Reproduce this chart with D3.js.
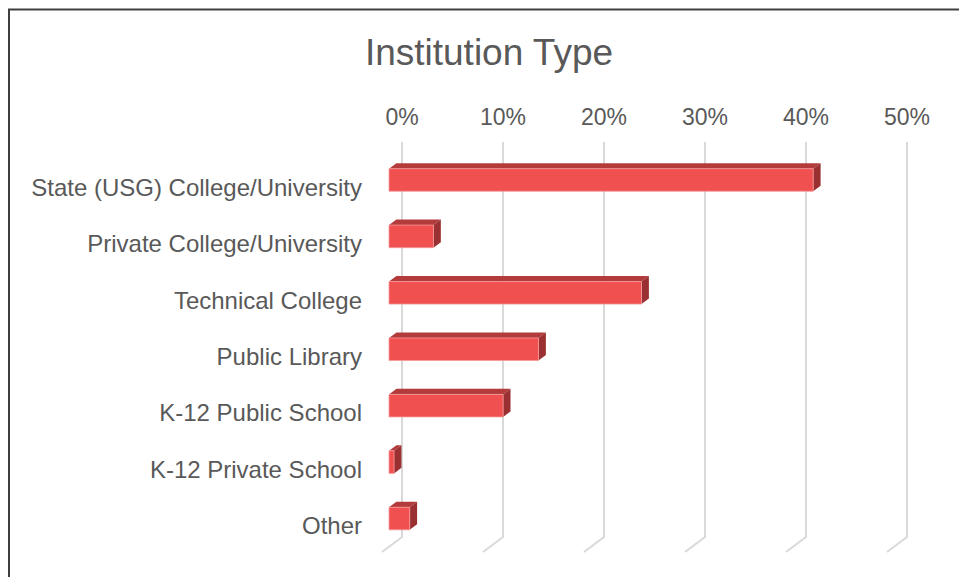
<!DOCTYPE html>
<html>
<head>
<meta charset="utf-8">
<script src="https://cdn.jsdelivr.net/npm/d3@7"></script>
<style>
  html, body { margin: 0; padding: 0; background: #ffffff; }
  svg { display: block; font-family: "Liberation Sans", Arial, sans-serif; }
</style>
</head>
<body>
<svg id="chart" width="959" height="577"></svg>
<script>
// Share of respondents by institution type (percent)
const categories = [
  "State (USG) College/University",
  "Private College/University",
  "Technical College",
  "Public Library",
  "K-12 Public School",
  "K-12 Private School",
  "Other"
];
const values = [42.0, 4.4, 25.0, 14.8, 11.3, 0.5, 2.05];
const tickValues = [0, 10, 20, 30, 40, 50];
const title = "Institution Type";

const W = 959, H = 577;
const svg = d3.select("#chart");

// Outer frame (left and top edges visible)
svg.append("path")
  .attr("d", `M9,${H} V9.5 H${W}`)
  .attr("fill", "none")
  .attr("stroke", "#404040")
  .attr("stroke-width", 2);

// Back-wall scales
const x = d3.scaleLinear().domain([0, 50]).range([402, 907]);
const y = d3.scaleBand().domain(categories).range([142, 537])
  .paddingInner(0.6).paddingOuter(0.3);

// Oblique depth vector from back wall to front edge of floor
const depth = { dx: -20, dy: 15 };
const fFront = 0.65, fBack = 0.28;

// Gridlines: vertical on back wall, then diagonal across the floor
const grid = svg.append("g").attr("class", "grid");
tickValues.forEach(t => {
  const gx = x(t);
  grid.append("path")
    .attr("d", `M${gx},142 V537 l${depth.dx},${depth.dy}`)
    .attr("fill", "none")
    .attr("stroke", "#d9d9d9")
    .attr("stroke-width", 2);
});

// Top tick labels
svg.append("g").selectAll("text")
  .data(tickValues)
  .join("text")
  .attr("x", d => x(d))
  .attr("y", 117)
  .attr("text-anchor", "middle")
  .attr("dominant-baseline", "central")
  .attr("fill", "#595959")
  .attr("font-size", 23)
  .text(d => d + "%");

// Title
svg.append("text")
  .attr("x", 489)
  .attr("y", 52)
  .attr("text-anchor", "middle")
  .attr("dominant-baseline", "central")
  .attr("fill", "#595959")
  .attr("font-size", 37)
  .text(title);

// 3D bars
const bars = svg.append("g").attr("class", "bars");
const data = categories.map((c, i) => ({ c, v: values[i] }));

data.forEach(d => {
  const fx = depth.dx * fFront, fy = depth.dy * fFront;
  const bx = depth.dx * fBack, by = depth.dy * fBack;
  const x0 = x(0), x1 = x(d.v);
  const top = y(d.c), bot = y(d.c) + y.bandwidth();

  // front face corners
  const FTL = [x0 + fx, top + fy], FTR = [x1 + fx, top + fy];
  const FBL = [x0 + fx, bot + fy], FBR = [x1 + fx, bot + fy];
  // back face corners
  const BTL = [x0 + bx, top + by], BTR = [x1 + bx, top + by];
  const BBR = [x1 + bx, bot + by];

  const poly = pts => "M" + pts.map(p => p.join(",")).join("L") + "Z";

  // top face
  bars.append("path")
    .attr("d", poly([FTL, FTR, BTR, BTL]))
    .attr("fill", "#b33b3c");
  // right side face
  bars.append("path")
    .attr("d", poly([FTR, BTR, BBR, FBR]))
    .attr("fill", "#9a3031");
  // front face
  bars.append("path")
    .attr("d", poly([FTL, FTR, FBR, FBL]))
    .attr("fill", "#f15051")
    .attr("stroke", "#f59a9a")
    .attr("stroke-width", 0.8);
});

// Category labels
svg.append("g").selectAll("text")
  .data(categories)
  .join("text")
  .attr("x", 362)
  .attr("y", d => y(d) + y.bandwidth() / 2 + 17)
  .attr("text-anchor", "end")
  .attr("dominant-baseline", "central")
  .attr("fill", "#595959")
  .attr("font-size", 24)
  .text(d => d);
</script>
</body>
</html>
